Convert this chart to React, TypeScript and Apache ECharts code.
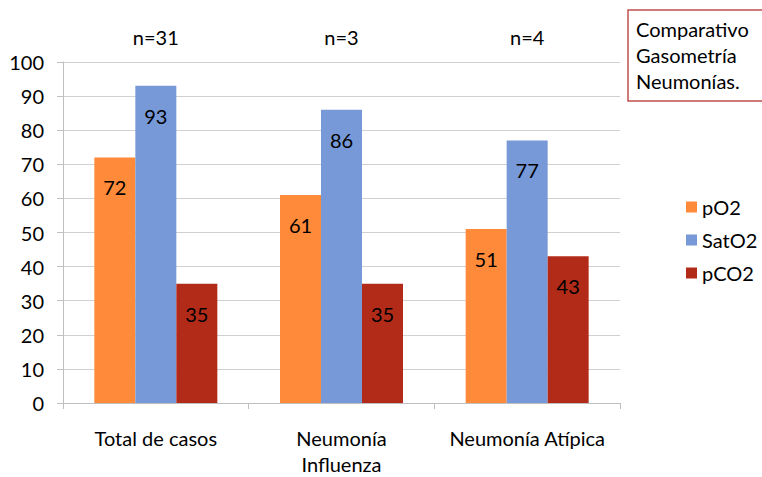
import React, { useEffect, useRef } from "react";
import * as echarts from "echarts";

const categories = ["Total de casos", "Neumonía\nInfluenza", "Neumonía Atípica"];
const groupSizes = ["n=31", "n=3", "n=4"];
const pO2 = [72, 61, 51];
const satO2 = [93, 86, 77];
const pCO2 = [35, 35, 43];
const titleLines = ["Comparativo", "Gasometría", "Neumonías."];

const FONT = "Lato, 'DejaVu Sans', sans-serif";
const FS = 20;

export default function App() {
  const ref = useRef<HTMLDivElement>(null);

  useEffect(() => {
    if (!ref.current) return;
    const chart = echarts.init(ref.current, undefined, { renderer: "svg" });

    const barLabel = {
      show: true,
      position: "insideTop" as const,
      distance: 20,
      color: "#000",
      fontSize: FS,
      fontFamily: FONT,
    };

    chart.setOption({
      animation: false,
      backgroundColor: "#fff",
      textStyle: { fontFamily: FONT },
      title: {
        text: titleLines.join("\n"),
        left: 628,
        top: 10,
        padding: [6, 40, 7, 8],
        borderColor: "#C0504D",
        borderWidth: 1.5,
        textStyle: {
          fontSize: FS,
          fontWeight: "normal",
          color: "#000",
          lineHeight: 26,
          fontFamily: FONT,
        },
      },
      legend: {
        orient: "vertical",
        left: 681,
        top: 191,
        itemWidth: 11,
        itemHeight: 11,
        itemGap: 11,
        icon: "rect",
        textStyle: { fontSize: FS, color: "#000", fontFamily: FONT, lineHeight: 22 },
        data: ["pO2", "SatO2", "pCO2"],
      },
      grid: { left: 63, right: 142, top: 62, bottom: 70 },
      xAxis: [
        {
          type: "category",
          data: categories,
          axisLine: { lineStyle: { color: "#BFBFBF", width: 1 } },
          axisTick: { show: true, length: 6, lineStyle: { color: "#BFBFBF" } },
          axisLabel: {
            interval: 0,
            fontSize: FS,
            color: "#000",
            margin: 22,
            lineHeight: 26,
            fontFamily: FONT,
          },
        },
        {
          type: "category",
          data: groupSizes,
          position: "top",
          offset: 7,
          axisLine: { show: false },
          axisTick: { show: false },
          axisLabel: { interval: 0, fontSize: FS, color: "#000", fontFamily: FONT },
        },
      ],
      yAxis: {
        type: "value",
        min: 0,
        max: 100,
        interval: 10,
        axisLine: { show: true, lineStyle: { color: "#BFBFBF" } },
        axisTick: { show: true, length: 6, lineStyle: { color: "#BFBFBF" } },
        splitLine: { lineStyle: { color: "#D0D0D0", width: 1 } },
        axisLabel: { fontSize: FS, color: "#000", margin: 19, fontFamily: FONT },
      },
      series: [
        {
          name: "pO2",
          type: "bar",
          data: pO2,
          barWidth: 41,
          barGap: "0%",
          itemStyle: { color: "#FF8A3A" },
          label: barLabel,
        },
        {
          name: "SatO2",
          type: "bar",
          data: satO2,
          barWidth: 41,
          barGap: "0%",
          itemStyle: { color: "#7799D8" },
          label: barLabel,
        },
        {
          name: "pCO2",
          type: "bar",
          data: pCO2,
          barWidth: 41,
          barGap: "0%",
          itemStyle: { color: "#B22B19" },
          label: barLabel,
        },
      ],
    });

    return () => chart.dispose();
  }, []);

  return <div ref={ref} style={{ width: 762, height: 477, position: "absolute", left: 0, top: 0 }} />;
}
